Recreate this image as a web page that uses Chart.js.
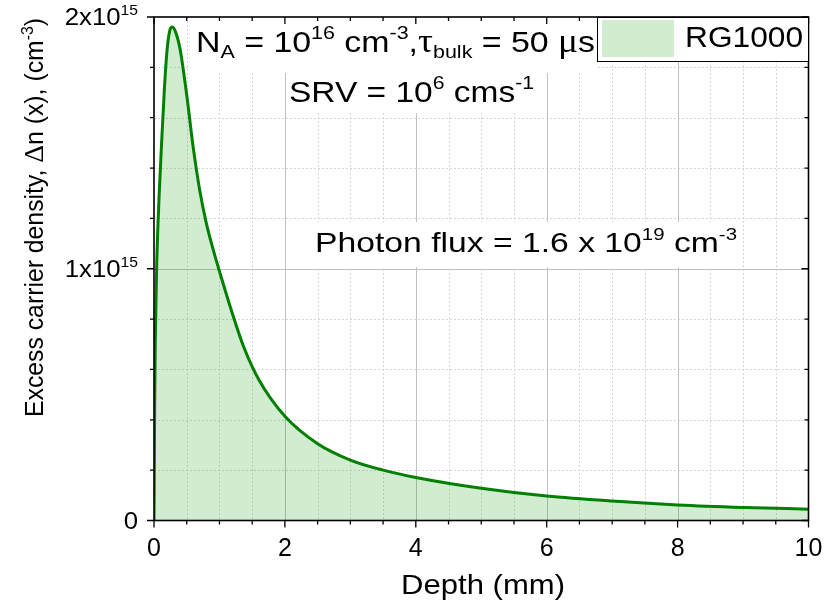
<!DOCTYPE html>
<html>
<head>
<meta charset="utf-8">
<script src="https://cdn.jsdelivr.net/npm/chart.js@4"></script>
<style>
  html, body { margin: 0; padding: 0; background: #fff; }
  #wrap { width: 825px; height: 609px; }
</style>
</head>
<body>
<div id="wrap"><canvas id="chart" width="825" height="609"></canvas></div>
<script>
// ── Données ────────────────────────────────────────────────────────
const depthMm = [0, 0.01, 0.02, 0.04, 0.08, 0.12, 0.16, 0.2, 0.24, 0.28, 0.33, 0.4, 0.5, 0.6, 0.7,
  0.8, 0.9, 1.0, 1.2, 1.37, 1.6, 2.0, 2.5, 3.0, 3.5, 4.0, 5.0, 6.0, 7.0, 8.0, 9.0, 10.0];
const deltaN = [0, 0.45e15, 0.72e15, 1.0e15, 1.3e15, 1.52e15, 1.72e15, 1.87e15, 1.945e15, 1.96e15,
  1.94e15, 1.87e15, 1.69e15, 1.48e15, 1.31e15, 1.18e15, 1.08e15, 0.99e15, 0.82e15, 0.69e15,
  0.56e15, 0.414e15, 0.305e15, 0.24e15, 0.2e15, 0.171e15, 0.128e15, 0.097e15, 0.077e15,
  0.062e15, 0.052e15, 0.045e15];
const seriesLabel = "RG1000";

const xMajorTicks = [0, 2, 4, 6, 8, 10];
const xMinorStep = 0.5;
const yMajorTicks = [0, 1e15, 2e15];
const yMinorStep = 0.2e15;
// Libellés riches : [texte, style] avec style "", "sup", "sub" ou "sym"
const yTickLabels = [
  [["0", ""]],
  [["1x10", ""], ["15", "sup"]],
  [["2x10", ""], ["15", "sup"]],
];
const xTitle = [["Depth (mm)", ""]];
const yTitle = [["Excess carrier density, ", ""], ["\u0394", "sym"], ["n (x), (cm", ""], ["-3", "sup"], [")", ""]];
const noteDoping = [["N", ""], ["A", "sub"], [" = 10", ""], ["16", "sup"], [" cm", ""], ["-3", "sup"], [",", ""],
  ["\u03c4", "sym"], ["bulk", "sub"], [" = 50 ", ""], ["\u03bc", "sym"], ["s", ""]];
const noteSrv = [["SRV = 10", ""], ["6", "sup"], [" cms", ""], ["-1", "sup"]];
const noteFlux = [["Photon flux = 1.6 x 10", ""], ["19", "sup"], [" cm", ""], ["-3", "sup"]];

const LINE_COLOR = "#008000";
const FILL_COLOR = "rgba(0,150,0,0.18)";
const FONT = "'Liberation Sans', Arial, sans-serif";
const SYM_FONT = "'Liberation Serif', 'DejaVu Serif', serif";

// ── Texte riche (exposants / indices) ─────────────────────────────

function segFont(kind, size) {
  if (kind === "sup" || kind === "sub") return `${Math.round(size * 0.62)}px ${FONT}`;
  if (kind === "sym") return `${Math.round(size * 1.1)}px ${SYM_FONT}`;
  return `${size}px ${FONT}`;
}

function richWidth(ctx, segs, size) {
  let w = 0;
  for (const [t, k] of segs) { ctx.font = segFont(k, size); w += ctx.measureText(t).width; }
  return w;
}

/** Dessine segs ; width (optionnel) étire horizontalement pour coller à la figure. */
function drawRich(ctx, segs, x, y, size, opt) {
  const o = opt || {};
  const natural = richWidth(ctx, segs, size);
  const sx = o.width ? o.width / natural : (o.stretch || 1);
  let x0 = x;
  if (o.align === "right") x0 = x - natural * sx;
  else if (o.align === "center") x0 = x - natural * sx / 2;
  ctx.save();
  ctx.translate(x0, y);
  if (o.rotate) ctx.rotate(o.rotate);
  ctx.scale(sx, 1);
  ctx.fillStyle = "#000";
  ctx.textBaseline = "alphabetic";
  ctx.textAlign = "left";
  let cx = 0;
  for (const [t, k] of segs) {
    ctx.font = segFont(k, size);
    const dy = k === "sup" ? -size * 0.42 : k === "sub" ? size * 0.2 : 0;
    ctx.fillText(t, cx, dy);
    cx += ctx.measureText(t).width;
  }
  ctx.restore();
}

function rangeSteps(min, max, step) {
  const out = [];
  for (let v = min; v <= max + step * 1e-6; v += step) out.push(v);
  return out;
}

// ── Plugin : grille, cadre, graduations, annotations, légende ─────

const figurePlugin = {
  id: "figure",
  beforeDatasetsDraw(chart) {
    const { ctx, chartArea: a, scales: { x, y } } = chart;
    ctx.save();
    // grille secondaire pointillée
    ctx.strokeStyle = "#d6d6d6";
    ctx.lineWidth = 1;
    ctx.setLineDash([2, 2]);
    ctx.beginPath();
    for (const v of rangeSteps(0, 10, xMinorStep)) {
      if (xMajorTicks.includes(v)) continue;
      const px = Math.round(x.getPixelForValue(v)) + 0.5;
      ctx.moveTo(px, a.top); ctx.lineTo(px, a.bottom);
    }
    for (const v of rangeSteps(0, 2e15, yMinorStep)) {
      if (yMajorTicks.some((m) => Math.abs(m - v) < 1e10)) continue;
      const py = Math.round(y.getPixelForValue(v)) + 0.5;
      ctx.moveTo(a.left, py); ctx.lineTo(a.right, py);
    }
    ctx.stroke();
    // grille principale
    ctx.setLineDash([]);
    ctx.strokeStyle = "#c0c0c0";
    ctx.beginPath();
    for (const v of xMajorTicks.slice(1, -1)) {
      const px = Math.round(x.getPixelForValue(v)) + 0.5;
      ctx.moveTo(px, a.top); ctx.lineTo(px, a.bottom);
    }
    for (const v of yMajorTicks.slice(1, -1)) {
      const py = Math.round(y.getPixelForValue(v)) + 0.5;
      ctx.moveTo(a.left, py); ctx.lineTo(a.right, py);
    }
    ctx.stroke();
    // fonds blancs des annotations (masquent la grille)
    ctx.fillStyle = "#fff";
    ctx.fillRect(191, a.top + 1, 406, 55);
    ctx.fillRect(286, 72, 259, 41);
    ctx.fillRect(312, 222, 428, 45);
    ctx.restore();
  },
  afterDatasetsDraw(chart) {
    const { ctx, chartArea: a, scales: { x, y } } = chart;
    ctx.save();
    // cadre
    ctx.strokeStyle = "#000";
    ctx.lineWidth = 1.6;
    ctx.strokeRect(a.left, a.top, a.right - a.left, a.bottom - a.top);
    // graduations
    ctx.lineWidth = 1.3;
    ctx.beginPath();
    for (const v of rangeSteps(0, 10, xMinorStep)) {
      const len = xMajorTicks.includes(v) ? 7 : 4;
      const px = x.getPixelForValue(v);
      ctx.moveTo(px, a.bottom); ctx.lineTo(px, a.bottom + len);
      ctx.moveTo(px, a.top); ctx.lineTo(px, a.top + len);
    }
    for (const v of rangeSteps(0, 2e15, yMinorStep)) {
      const len = yMajorTicks.some((m) => Math.abs(m - v) < 1e10) ? 7 : 4;
      const py = y.getPixelForValue(v);
      ctx.moveTo(a.left, py); ctx.lineTo(a.left - len, py);
      ctx.moveTo(a.right, py); ctx.lineTo(a.right - len, py);
    }
    ctx.stroke();
    // libellés des graduations
    xMajorTicks.forEach((v) => {
      drawRich(ctx, [[String(v), ""]], x.getPixelForValue(v), a.bottom + 35, 25, { align: "center" });
    });
    yMajorTicks.forEach((v, i) => {
      drawRich(ctx, yTickLabels[i], 138, y.getPixelForValue(v) + 8, 23, { align: "right", stretch: 1.12 });
    });
    // titres des axes
    drawRich(ctx, xTitle, 483, 594, 28, { align: "center", width: 164 });
    drawRich(ctx, yTitle, 43, 417, 25, { rotate: -Math.PI / 2, width: 399 });
    // annotations
    drawRich(ctx, noteDoping, 196, 52, 30, { width: 399 });
    drawRich(ctx, noteSrv, 289, 102, 30, { width: 245 });
    drawRich(ctx, noteFlux, 315, 252, 28, { width: 422 });
    // légende
    const ds = chart.data.datasets[0];
    ctx.fillStyle = "#fff";
    ctx.fillRect(597, a.top, a.right - 597, 44);
    ctx.strokeStyle = "#000";
    ctx.lineWidth = 1;
    ctx.strokeRect(597.5, a.top + 0.5, a.right - 597.5, 44);
    ctx.fillStyle = ds.backgroundColor;
    ctx.fillRect(602, 20, 72, 37);
    drawRich(ctx, [[ds.label, ""]], 685, 47, 30, { width: 118 });
    ctx.restore();
  },
};

// ── Graphique ─────────────────────────────────────────────────────

new Chart(document.getElementById("chart"), {
  type: "line",
  data: {
    datasets: [{
      label: seriesLabel,
      data: depthMm.map((d, i) => ({ x: d, y: deltaN[i] })),
      borderColor: LINE_COLOR,
      backgroundColor: FILL_COLOR,
      borderWidth: 3,
      fill: "origin",
      pointRadius: 0,
      cubicInterpolationMode: "monotone",
    }],
  },
  options: {
    responsive: false,
    animation: false,
    devicePixelRatio: 1,
    layout: { padding: { left: 154, right: 16.5, top: 17, bottom: 88.5 } },
    plugins: { legend: { display: false }, tooltip: { enabled: false } },
    scales: {
      x: {
        type: "linear", min: 0, max: 10,
        ticks: { display: false }, grid: { display: false, drawTicks: false }, border: { display: false },
      },
      y: {
        type: "linear", min: 0, max: 2e15,
        ticks: { display: false }, grid: { display: false, drawTicks: false }, border: { display: false },
      },
    },
  },
  plugins: [figurePlugin],
});
</script>
</body>
</html>
